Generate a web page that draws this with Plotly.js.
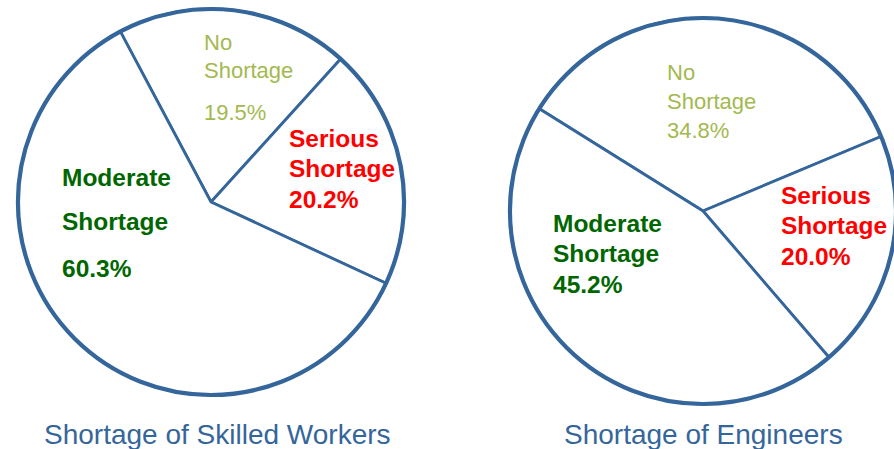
<!DOCTYPE html>
<html>
<head>
<meta charset="utf-8">
<script src="https://cdn.plot.ly/plotly-3.0.1.min.js"></script>
<style>
html,body{margin:0;padding:0;overflow:hidden;background:#fff;}
#chart{width:910px;height:449px;}
</style>
</head>
<body>
<div id="chart"></div>
<script>
// ---- data ----
const categories = ['No Shortage', 'Serious Shortage', 'Moderate Shortage'];
const workersValues = [19.5, 20.2, 60.3];
const engineersValues = [34.8, 20.0, 45.2];
const chartTitles = ['Shortage of Skilled Workers', 'Shortage of Engineers'];

// ---- styles ----
const W = 910, H = 449;
const outline = '#35669b';
const labelColors = ['#a3b94f', '#ff0000', '#006600'];
const labelBold = [false, true, true];
const labelSizes = [22, 24.5, 24.5];
const FONT = 'Liberation Sans, Arial, sans-serif';

function px2x(p){ return p / W; }
function px2y(p){ return 1 - p / H; }

// pie geometry (pixel centre + radius) and rotation
const pies = [
  {values: workersValues, cx: 211, cy: 202, r: 193, rotation: -28, title: chartTitles[0], titleX: 217,
   labelPos: [ {x: 202, ys: [42, 71, 113]}, {x: 287, ys: [138, 168, 199]}, {x: 60, ys: [177, 221, 268]} ]},
  {values: engineersValues, cx: 703, cy: 211, r: 193, rotation: -58, title: chartTitles[1], titleX: 703,
   labelPos: [ {x: 665, ys: [72, 102, 131]}, {x: 779, ys: [195, 225, 256]}, {x: 551, ys: [223, 253, 284]} ]}
];

const traces = [];
const annotations = [];
pies.forEach(p => {
  const domain = {
    x: [px2x(p.cx - p.r), px2x(p.cx + p.r)],
    y: [px2y(p.cy + p.r), px2y(p.cy - p.r)]
  };
  traces.push({
    type: 'pie', values: p.values, labels: categories, sort: false,
    direction: 'clockwise', rotation: p.rotation, domain: domain,
    marker: {colors: categories.map(() => '#ffffff'), line: {color: outline, width: 2.8}},
    textinfo: 'none', hoverinfo: 'none', showlegend: false
  });
  traces.push({
    type: 'pie', values: [1], labels: ['outline'], sort: false, domain: domain,
    marker: {colors: ['rgba(0,0,0,0)'], line: {color: outline, width: 4.2}},
    textinfo: 'none', hoverinfo: 'none', showlegend: false
  });
  categories.forEach((c, i) => {
    const words = c.split(' ');
    const lines = [words[0], words.slice(1).join(' '), p.values[i].toFixed(1) + '%'];
    lines.forEach((t, j) => {
      annotations.push({
        xref: 'paper', yref: 'paper', x: px2x(p.labelPos[i].x), y: px2y(p.labelPos[i].ys[j]),
        xanchor: 'left', yanchor: 'middle', showarrow: false,
        text: labelBold[i] ? '<b>' + t + '</b>' : t,
        font: {family: FONT, size: labelSizes[i], color: labelColors[i]}
      });
    });
  });
  annotations.push({
    xref: 'paper', yref: 'paper', x: px2x(p.titleX), y: px2y(434),
    xanchor: 'center', yanchor: 'middle', showarrow: false,
    text: p.title, font: {family: FONT, size: 28, color: outline}
  });
});

const layout = {
  width: W, height: H,
  margin: {l: 0, r: 0, t: 0, b: 0},
  paper_bgcolor: '#ffffff', plot_bgcolor: '#ffffff',
  showlegend: false,
  annotations: annotations
};

Plotly.newPlot('chart', traces, layout, {displayModeBar: false, staticPlot: true});
</script>
</body>
</html>
